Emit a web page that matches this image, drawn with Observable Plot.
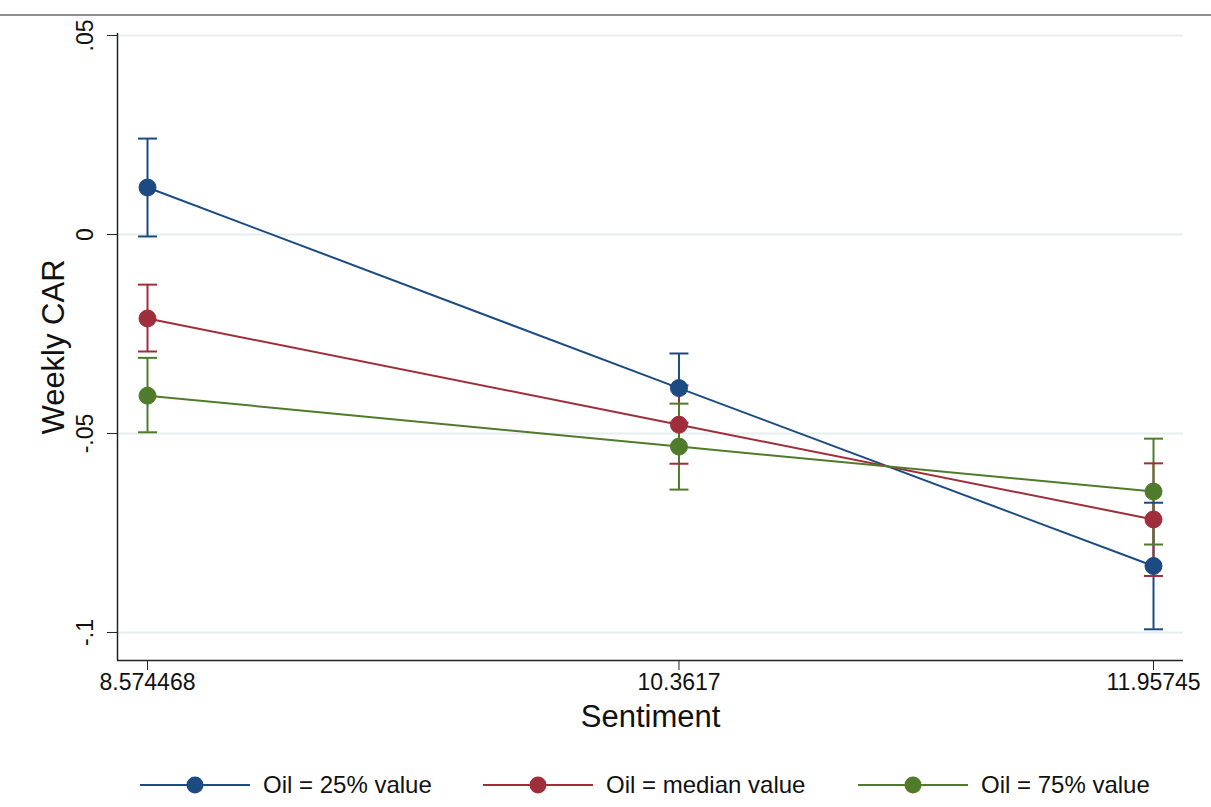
<!DOCTYPE html>
<html>
<head>
<meta charset="utf-8">
<script src="https://cdn.jsdelivr.net/npm/d3@7"></script>
<script src="https://cdn.jsdelivr.net/npm/@observablehq/plot@0.6"></script>
<style>
  html, body { margin: 0; padding: 0; background: #fff; }
  body { width: 1211px; height: 807px; position: relative; overflow: hidden; font-family: "Liberation Sans", Arial, sans-serif; color: #111; }
  #topbar { position: absolute; left: 0; top: 0; width: 1211px; height: 14px; border-bottom: 2px solid #8e8e8e; z-index: 2; }
  #chart { position: absolute; left: 0; top: 0; }
  #chart svg { overflow: visible; }
  #legend { position: absolute; left: 0; top: 771px; width: 1211px; height: 28px; }
  .item { position: absolute; top: 0; display: flex; align-items: center; height: 28px; font-size: 24px; }
  .item svg { margin-right: 13px; }
</style>
</head>
<body>
<div id="topbar"></div>
<div id="chart"></div>
<div id="legend"></div>
<script>
// ---- data ----
const sentiment = [8.574468, 10.3617, 11.95745];
const sentimentLabels = ["8.574468", "10.3617", "11.95745"];
const seriesNames = ["Oil = 25% value", "Oil = median value", "Oil = 75% value"];
const seriesColors = ["#1b4b80", "#a02e3a", "#4f7b2b"];

const car25 = [0.0118, -0.0386, -0.0833];
const lo25  = [-0.0005, -0.0473, -0.0992];
const hi25  = [0.0241, -0.0299, -0.0674];

const carMed = [-0.0211, -0.0478, -0.0716];
const loMed  = [-0.0294, -0.0576, -0.0858];
const hiMed  = [-0.0126, -0.0379, -0.0575];

const car75 = [-0.0405, -0.0533, -0.0646];
const lo75  = [-0.0497, -0.0641, -0.0779];
const hi75  = [-0.0310, -0.0425, -0.0513];

const yTicks = [0.05, 0, -0.05, -0.1];
const yTickLabels = [".05", "0", "-.05", "-.1"];

// ---- build table ----
const seriesData = [[car25, lo25, hi25], [carMed, loMed, hiMed], [car75, lo75, hi75]];
const rows = [];
seriesData.forEach(([c, l, h], si) => {
  sentiment.forEach((s, i) => rows.push({series: seriesNames[si], x: s, y: c[i], lo: l[i], hi: h[i]}));
});

const capSymbol = {
  draw(context, size) {
    const w = 9.5;
    context.moveTo(-w, 0);
    context.lineTo(w, 0);
  }
};

const xDomain = [8.47358, 12.05834];
const yDomain = [-0.10704, 0.0505];
const colorScale = {domain: seriesNames, range: seriesColors};

const plot = Plot.plot({
  width: 1211,
  height: 761,
  marginLeft: 117,
  marginRight: 28,
  marginTop: 33,
  marginBottom: 101,
  x: {domain: xDomain},
  y: {domain: yDomain},
  color: colorScale,
  style: {fontFamily: "Liberation Sans, Arial, sans-serif", color: "#111", background: "transparent", overflow: "visible"},
  marks: [
    Plot.gridY(yTicks, {stroke: "#e6edef", strokeOpacity: 1, strokeWidth: 2}),
    Plot.ruleX([xDomain[0]], {stroke: "#222", strokeWidth: 1.5}),
    Plot.ruleY([yDomain[0]], {stroke: "#222", strokeWidth: 1.5}),
    Plot.axisX({ticks: sentiment, tickFormat: (d, i) => sentimentLabels[i], tickSize: 10, tickPadding: 3, fontSize: 23, label: null, stroke: "#222"}),
    Plot.axisY({ticks: yTicks, tickFormat: () => "", tickSize: 10, label: null, stroke: "#222"}),
    Plot.text(yTicks, {y: d => d, text: (d, i) => yTickLabels[i], frameAnchor: "left", textAnchor: "middle", lineAnchor: "middle", dx: -32, rotate: -90, fontSize: 23, fill: "#111"}),
    Plot.text(["Weekly CAR"], {frameAnchor: "left", textAnchor: "middle", lineAnchor: "middle", dx: -63, rotate: -90, fontSize: 31, fill: "#111"}),
    Plot.text(["Sentiment"], {frameAnchor: "bottom", textAnchor: "middle", lineAnchor: "middle", dy: 57, fontSize: 31, fill: "#111"}),
    // error bars
    Plot.ruleX(rows, {x: "x", y1: "lo", y2: "hi", stroke: "series", strokeWidth: 2}),
    Plot.dot(rows, {x: "x", y: "lo", symbol: capSymbol, r: 5, stroke: "series", strokeWidth: 2, fill: "none"}),
    Plot.dot(rows, {x: "x", y: "hi", symbol: capSymbol, r: 5, stroke: "series", strokeWidth: 2, fill: "none"}),
    // lines and markers
    Plot.line(rows, {x: "x", y: "y", z: "series", stroke: "series", strokeWidth: 2}),
    Plot.dot(rows, {x: "x", y: "y", r: 8.5, fill: "series", stroke: "series", strokeWidth: 1})
  ]
});
document.getElementById("chart").appendChild(plot);

// ---- legend ----
const legend = document.getElementById("legend");
const legendLeft = [140, 483, 858];
seriesNames.forEach((name, i) => {
  const div = document.createElement("div");
  div.className = "item";
  div.style.left = legendLeft[i] + "px";
  const c = seriesColors[i];
  div.innerHTML = `<svg width="110" height="24"><line x1="0" x2="110" y1="12" y2="12" stroke="${c}" stroke-width="2"/><circle cx="55" cy="12" r="8.5" fill="${c}"/></svg><span>${name}</span>`;
  legend.appendChild(div);
});
</script>
</body>
</html>
